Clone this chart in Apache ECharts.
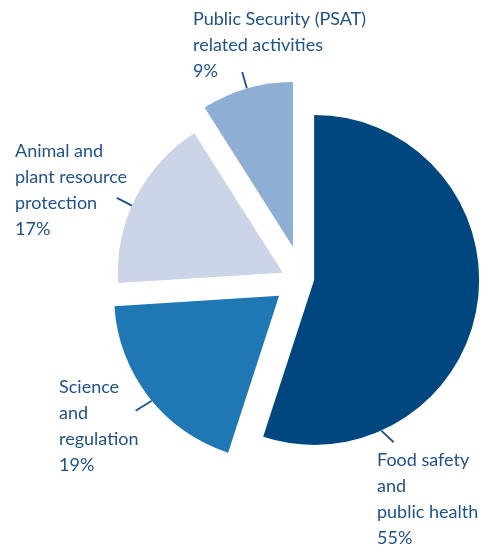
<!DOCTYPE html>
<html><head><meta charset="utf-8">
<script src="https://cdn.jsdelivr.net/npm/echarts@6/dist/echarts.min.js"></script>
<style>html,body{margin:0;padding:0;background:#fff}#chart{width:483px;height:548px}</style>
</head><body><div id="chart"></div>
<script>
// ---- data ----
const categories = ['Food safety\nand\npublic health', 'Science\nand\nregulation', 'Animal and\nplant resource\nprotection', 'Public Security (PSAT)\nrelated activities'];
const values = [55, 19, 17, 9];

// ---- style / layout ----
const colors = ['#00467f', '#1f78b3', '#cbd5e7', '#8eaed4'];
const textColor = '#1f5287';
const baseCenter = [302, 278];
const radius = 165;
const explode = [12.3, 29, 20, 32.4];
const explodeDir = [null, null, 285.4, null]; // null = slice mid-angle
// arc: where the leader line starts on the arc (deg clockwise from top), dir: line direction
const labelCfg = [
  {arc: 156, dir: 133, len: 17, tx: 377, ty: 447},
  {arc: 230.5, dir: 238, len: 19, tx: 59, ty: 374},
  {arc: 294, dir: 297, len: 17, tx: 15, ty: 138},
  {arc: 343.8, dir: 343.8, len: 17, tx: 193, ty: 6}
];

const total = values.reduce((a, b) => a + b, 0);
let cum = 0;
const series = values.map((v, i) => {
  const mid = (cum + v / 2) / total * 360; cum += v;
  const rad = (explodeDir[i] != null ? explodeDir[i] : mid) * Math.PI / 180;
  const c = [baseCenter[0] + explode[i] * Math.sin(rad), baseCenter[1] - explode[i] * Math.cos(rad)];
  const lc = labelCfg[i];
  const a = lc.arc * Math.PI / 180, d = lc.dir * Math.PI / 180;
  const p0 = [c[0] + radius * Math.sin(a), c[1] - radius * Math.cos(a)];
  const p1 = [p0[0] + lc.len * Math.sin(d), p0[1] - lc.len * Math.cos(d)];
  return {
    type: 'pie', center: c, radius: radius, startAngle: 90, clockwise: true,
    avoidLabelOverlap: false, silent: true, animation: false,
    itemStyle: {borderWidth: 0},
    label: {show: false}, labelLine: {show: false},
    emphasis: {disabled: true},
    data: categories.map((name, j) => ({
      name: name, value: values[j],
      itemStyle: {color: j === i ? colors[j] : 'rgba(0,0,0,0)', borderWidth: 0},
      label: {
        show: j === i, position: 'outside',
        formatter: p => p.name + '\n' + p.percent + '%',
        color: textColor, fontSize: 18, lineHeight: 26, fontFamily: 'Lato', align: 'left'
      },
      labelLine: {show: j === i, length: 17, length2: 0, lineStyle: {color: textColor, width: 1.8}}
    })),
    labelLayout: params => params.dataIndex === i ?
      {x: lc.tx, y: lc.ty, align: 'left', verticalAlign: 'top', labelLinePoints: [p0, p1]} : {}
  };
});

const chart = echarts.init(document.getElementById('chart'));
chart.setOption({backgroundColor: '#fff', animation: false, series: series});
</script>
</body></html>
